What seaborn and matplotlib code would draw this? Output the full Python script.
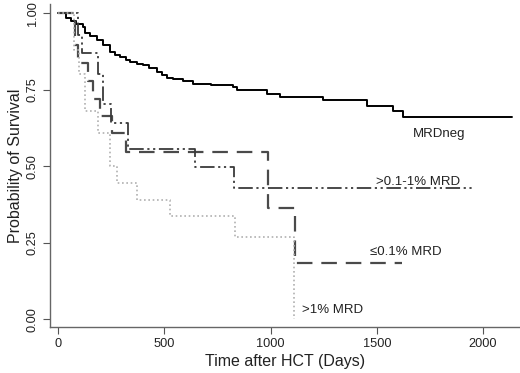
import numpy as np
import pandas as pd
import seaborn as sns
import matplotlib.pyplot as plt

# Kaplan-Meier step points (time in days, survival)
neg_t = [0, 40, 60, 85, 118, 125, 150, 183, 210, 245, 270, 292, 320, 339, 370, 400,
         430, 465, 490, 513, 541, 590, 635, 720, 824, 842, 983, 1045, 1247, 1453,
         1577, 1624, 2136]
neg_s = [1.0, 0.985, 0.975, 0.965, 0.954, 0.935, 0.925, 0.912, 0.895, 0.873, 0.865,
         0.856, 0.848, 0.84, 0.835, 0.83, 0.82, 0.807, 0.798, 0.79, 0.784, 0.777,
         0.77, 0.765, 0.758, 0.748, 0.735, 0.725, 0.716, 0.696, 0.68, 0.66, 0.66]

low_t = [0, 78, 92, 140, 165, 200, 255, 320, 990, 1115, 1620]
low_s = [1.0, 0.895, 0.837, 0.78, 0.72, 0.665, 0.61, 0.545, 0.363, 0.182, 0.182]

mid_t = [0, 95, 112, 190, 212, 250, 330, 645, 830, 1948]
mid_s = [1.0, 0.93, 0.87, 0.80, 0.705, 0.64, 0.556, 0.497, 0.428, 0.428]

high_t = [0, 75, 100, 127, 190, 245, 280, 370, 527, 833, 1110, 1110]
high_s = [1.0, 0.88, 0.80, 0.68, 0.61, 0.50, 0.444, 0.389, 0.337, 0.268, 0.0, 0.0]

groups = ['MRDneg', '≤0.1% MRD', '>0.1-1% MRD', '>1% MRD']
label_x = [1670, 1470, 1495, 1150]
label_y = [0.605, 0.22, 0.45, 0.03]

sns.set_style('white')
plt.rcParams['font.family'] = ['Liberation Sans', 'DejaVu Sans']

fig = plt.figure(figsize=(5.2, 3.73), dpi=100)
ax = fig.add_axes([0.096, 0.123, 0.904, 0.866])

curves = [
    (neg_t, neg_s, dict(color='black', linestyle='-', linewidth=1.4)),
    (low_t, low_s, dict(color='#4a4a4a', linestyle=(0, (7, 4)), linewidth=1.6)),
    (mid_t, mid_s, dict(color='#3a3a3a', linestyle=(0, (8, 2, 1.2, 2, 1.2, 2)), linewidth=1.3)),
    (high_t, high_s, dict(color='#b0b0b0', linestyle=(0, (1, 1.6)), linewidth=1.2)),
]
for (t, s, kw), g in zip(curves, groups):
    df = pd.DataFrame({'time': t, 'surv': s})
    sns.lineplot(data=df, x='time', y='surv', ax=ax, estimator=None, sort=False,
                 drawstyle='steps-post', **kw)

for g, lx, ly in zip(groups, label_x, label_y):
    ax.text(lx, ly, g, fontsize=9.5, color='#222222', va='center', ha='left')

ax.set_xlim(-38, 2174)
ax.set_ylim(-0.026, 1.03)
ax.set_xticks([0, 500, 1000, 1500, 2000])
ax.set_yticks([0, 0.25, 0.5, 0.75, 1.0])
ax.set_yticklabels(['0.00', '0.25', '0.50', '0.75', '1.00'], rotation=90, va='center')
ax.tick_params(axis='both', direction='out', length=5, width=0.8, color='#555555',
               labelsize=9.2, labelcolor='#222222', pad=3)
ax.tick_params(axis='x', bottom=True)
ax.tick_params(axis='y', left=True)
for side in ['top', 'right']:
    ax.spines[side].set_visible(False)
for side in ['left', 'bottom']:
    ax.spines[side].set_color('#666666')
    ax.spines[side].set_linewidth(1.0)

ax.set_xlabel('Time after HCT (Days)', fontsize=11.5, color='#222222', labelpad=3)
ax.set_ylabel('Probability of Survival', fontsize=11.5, color='#222222', labelpad=3)

fig.savefig('out.png', dpi=100)
